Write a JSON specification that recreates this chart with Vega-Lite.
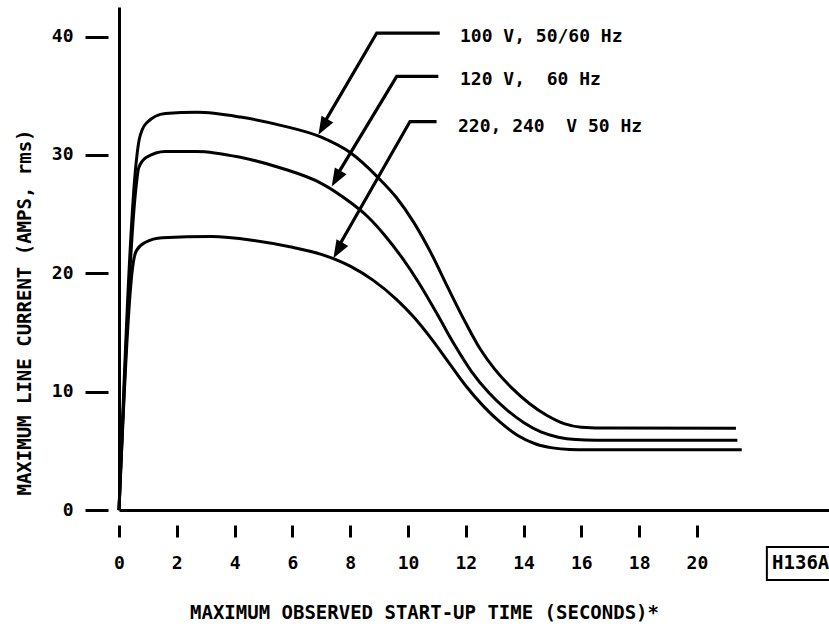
{
  "$schema": "https://vega.github.io/schema/vega-lite/v6.json",
  "width": 710,
  "height": 503,
  "autosize": {"type": "none"},
  "padding": {"left": 119, "top": 7, "right": 0, "bottom": 123},
  "background": "white",
  "config": {
    "view": {"stroke": null},
    "font": "DejaVu Sans Mono"
  },
  "datasets": {
    "curves": [
      {"series": "100 V", "x": 0, "y": 0},
      {"series": "100 V", "x": 0.6, "y": 29.5},
      {"series": "100 V", "x": 0.7, "y": 31.3},
      {"series": "100 V", "x": 0.95, "y": 32.7},
      {"series": "100 V", "x": 1.6, "y": 33.5},
      {"series": "100 V", "x": 2.7, "y": 33.6},
      {"series": "100 V", "x": 4.2, "y": 33.2},
      {"series": "100 V", "x": 5.6, "y": 32.5},
      {"series": "100 V", "x": 7.0, "y": 31.5},
      {"series": "100 V", "x": 8.0, "y": 30.2},
      {"series": "100 V", "x": 9.0, "y": 28.0},
      {"series": "100 V", "x": 9.6, "y": 26.4},
      {"series": "100 V", "x": 10.2, "y": 24.3},
      {"series": "100 V", "x": 10.8, "y": 21.7},
      {"series": "100 V", "x": 11.4, "y": 18.7},
      {"series": "100 V", "x": 12.0, "y": 15.8},
      {"series": "100 V", "x": 12.5, "y": 13.6},
      {"series": "100 V", "x": 13.0, "y": 11.9},
      {"series": "100 V", "x": 13.6, "y": 10.3},
      {"series": "100 V", "x": 14.2, "y": 9.0},
      {"series": "100 V", "x": 14.8, "y": 8.0},
      {"series": "100 V", "x": 15.4, "y": 7.3},
      {"series": "100 V", "x": 16.0, "y": 7.0},
      {"series": "100 V", "x": 17.0, "y": 6.92},
      {"series": "100 V", "x": 21.35, "y": 6.9},
      {"series": "120 V", "x": 0, "y": 0},
      {"series": "120 V", "x": 0.6, "y": 27.5},
      {"series": "120 V", "x": 0.68, "y": 28.9},
      {"series": "120 V", "x": 0.95, "y": 29.8},
      {"series": "120 V", "x": 1.6, "y": 30.3},
      {"series": "120 V", "x": 2.7, "y": 30.3},
      {"series": "120 V", "x": 4.2, "y": 29.8},
      {"series": "120 V", "x": 5.6, "y": 28.9},
      {"series": "120 V", "x": 7.0, "y": 27.6},
      {"series": "120 V", "x": 8.0, "y": 26.0},
      {"series": "120 V", "x": 8.6, "y": 24.8},
      {"series": "120 V", "x": 9.2, "y": 23.2},
      {"series": "120 V", "x": 9.8, "y": 21.3},
      {"series": "120 V", "x": 10.4, "y": 19.1},
      {"series": "120 V", "x": 11.0, "y": 16.6},
      {"series": "120 V", "x": 11.6, "y": 14.0},
      {"series": "120 V", "x": 12.2, "y": 11.7},
      {"series": "120 V", "x": 12.8, "y": 9.9},
      {"series": "120 V", "x": 13.4, "y": 8.5},
      {"series": "120 V", "x": 14.0, "y": 7.4},
      {"series": "120 V", "x": 14.6, "y": 6.6},
      {"series": "120 V", "x": 15.2, "y": 6.15},
      {"series": "120 V", "x": 15.8, "y": 5.95},
      {"series": "120 V", "x": 16.5, "y": 5.9},
      {"series": "120 V", "x": 21.4, "y": 5.9},
      {"series": "220 V", "x": 0, "y": 0},
      {"series": "220 V", "x": 0.5, "y": 21.0},
      {"series": "220 V", "x": 0.6, "y": 21.9},
      {"series": "220 V", "x": 0.9, "y": 22.6},
      {"series": "220 V", "x": 1.5, "y": 23.0},
      {"series": "220 V", "x": 3.2, "y": 23.1},
      {"series": "220 V", "x": 4.6, "y": 22.8},
      {"series": "220 V", "x": 6.0, "y": 22.2},
      {"series": "220 V", "x": 7.0, "y": 21.6},
      {"series": "220 V", "x": 8.0, "y": 20.6},
      {"series": "220 V", "x": 8.8, "y": 19.4},
      {"series": "220 V", "x": 9.6, "y": 17.8},
      {"series": "220 V", "x": 10.2, "y": 16.3},
      {"series": "220 V", "x": 10.8, "y": 14.5},
      {"series": "220 V", "x": 11.4, "y": 12.5},
      {"series": "220 V", "x": 12.0, "y": 10.5},
      {"series": "220 V", "x": 12.6, "y": 8.8},
      {"series": "220 V", "x": 13.2, "y": 7.4},
      {"series": "220 V", "x": 13.8, "y": 6.3},
      {"series": "220 V", "x": 14.4, "y": 5.6},
      {"series": "220 V", "x": 15.0, "y": 5.25},
      {"series": "220 V", "x": 15.6, "y": 5.12},
      {"series": "220 V", "x": 16.2, "y": 5.1},
      {"series": "220 V", "x": 21.55, "y": 5.1}
    ],
    "arrows": [
      {"arrow": "a1", "step": 1, "x": 11.1, "y": 40.3},
      {"arrow": "a1", "step": 2, "x": 8.92, "y": 40.3},
      {"arrow": "a1", "step": 3, "x": 7.05, "y": 32.5},
      {"arrow": "a2", "step": 1, "x": 11.05, "y": 36.63},
      {"arrow": "a2", "step": 2, "x": 9.61, "y": 36.63},
      {"arrow": "a2", "step": 3, "x": 7.5, "y": 28.1},
      {"arrow": "a3", "step": 1, "x": 10.99, "y": 32.82},
      {"arrow": "a3", "step": 2, "x": 10.07, "y": 32.82},
      {"arrow": "a3", "step": 3, "x": 7.55, "y": 22.05}
    ],
    "heads": [
      {"x": 6.9, "y": 31.7},
      {"x": 7.36, "y": 27.33},
      {"x": 7.42, "y": 21.28}
    ],
    "labels": [
      {"x": 11.8, "y": 40.0, "text": "100 V, 50/60 Hz"},
      {"x": 11.8, "y": 36.3, "text": "120 V,\u00a0 60 Hz"},
      {"x": 11.73, "y": 32.4, "text": "220, 240\u00a0 V 50 Hz"}
    ],
    "tag": [
      {"x": 22.42, "x2": 25.0, "y": -3.13, "y2": -5.92, "tx": 22.6, "ty": -4.5, "text": "H136A"}
    ]
  },
  "layer": [
    {
      "data": {"name": "curves"},
      "mark": {"type": "line", "color": "black", "strokeWidth": 3, "interpolate": "monotone"},
      "encoding": {
        "x": {
          "field": "x", "type": "quantitative",
          "scale": {"domain": [0, 24.57], "nice": false, "zero": false},
          "axis": {
            "title": "MAXIMUM OBSERVED START-UP TIME (SECONDS)*",
            "values": [0, 2, 4, 6, 8, 10, 12, 14, 16, 18, 20],
            "grid": false,
            "domainColor": "black", "domainWidth": 3,
            "tickColor": "black", "tickWidth": 3, "tickSize": 27,
            "tickDash": [12, 15], "tickDashOffset": 12,
            "labelFont": "DejaVu Sans Mono", "labelFontSize": 18, "labelFontWeight": "bold",
            "labelColor": "black", "labelPadding": 17, "labelFlush": false,
            "titleFont": "DejaVu Sans Mono", "titleFontSize": 19, "titleFontWeight": "bold",
            "titleColor": "black", "titleX": 305, "titleY": 102,
            "titleAlign": "center", "titleBaseline": "middle"
          }
        },
        "y": {
          "field": "y", "type": "quantitative",
          "scale": {"domain": [0, 42.5], "nice": false, "zero": false},
          "axis": {
            "title": "MAXIMUM LINE CURRENT (AMPS, rms)",
            "values": [0, 10, 20, 30, 40],
            "grid": false,
            "domainColor": "black", "domainWidth": 3,
            "tickColor": "black", "tickWidth": 3, "tickSize": 34,
            "tickDash": [23, 11], "tickDashOffset": 23,
            "labelFont": "DejaVu Sans Mono", "labelFontSize": 18, "labelFontWeight": "bold",
            "labelColor": "black", "labelPadding": 12, "labelBaseline": "middle",
            "titleFont": "DejaVu Sans Mono", "titleFontSize": 19, "titleFontWeight": "bold",
            "titleColor": "black", "titleX": -95, "titleY": 305,
            "titleAlign": "center", "titleBaseline": "middle", "titleAngle": -90
          }
        },
        "detail": {"field": "series", "type": "nominal"}
      }
    },
    {
      "data": {"name": "arrows"},
      "mark": {"type": "line", "color": "black", "strokeWidth": 3.2},
      "encoding": {
        "x": {"field": "x", "type": "quantitative"},
        "y": {"field": "y", "type": "quantitative"},
        "detail": {"field": "arrow", "type": "nominal"},
        "order": {"field": "step", "type": "quantitative"}
      }
    },
    {
      "data": {"name": "heads"},
      "mark": {"type": "point", "shape": "M0,0 L-0.75,2 L0.75,2 Z", "filled": true, "color": "black", "opacity": 1, "size": 324, "angle": 210},
      "encoding": {
        "x": {"field": "x", "type": "quantitative"},
        "y": {"field": "y", "type": "quantitative"}
      }
    },
    {
      "data": {"name": "labels"},
      "mark": {"type": "text", "align": "left", "baseline": "middle", "font": "DejaVu Sans Mono", "fontSize": 18, "fontWeight": "bold", "color": "black"},
      "encoding": {
        "x": {"field": "x", "type": "quantitative"},
        "y": {"field": "y", "type": "quantitative"},
        "text": {"field": "text"}
      }
    },
    {
      "data": {"name": "tag"},
      "mark": {"type": "rect", "fill": null, "stroke": "black", "strokeWidth": 2},
      "encoding": {
        "x": {"field": "x", "type": "quantitative"},
        "x2": {"field": "x2"},
        "y": {"field": "y", "type": "quantitative"},
        "y2": {"field": "y2"}
      }
    },
    {
      "data": {"name": "tag"},
      "mark": {"type": "text", "align": "left", "baseline": "middle", "font": "DejaVu Sans Mono", "fontSize": 19, "fontWeight": "bold", "color": "black"},
      "encoding": {
        "x": {"field": "tx", "type": "quantitative"},
        "y": {"field": "ty", "type": "quantitative"},
        "text": {"field": "text"}
      }
    }
  ]
}
